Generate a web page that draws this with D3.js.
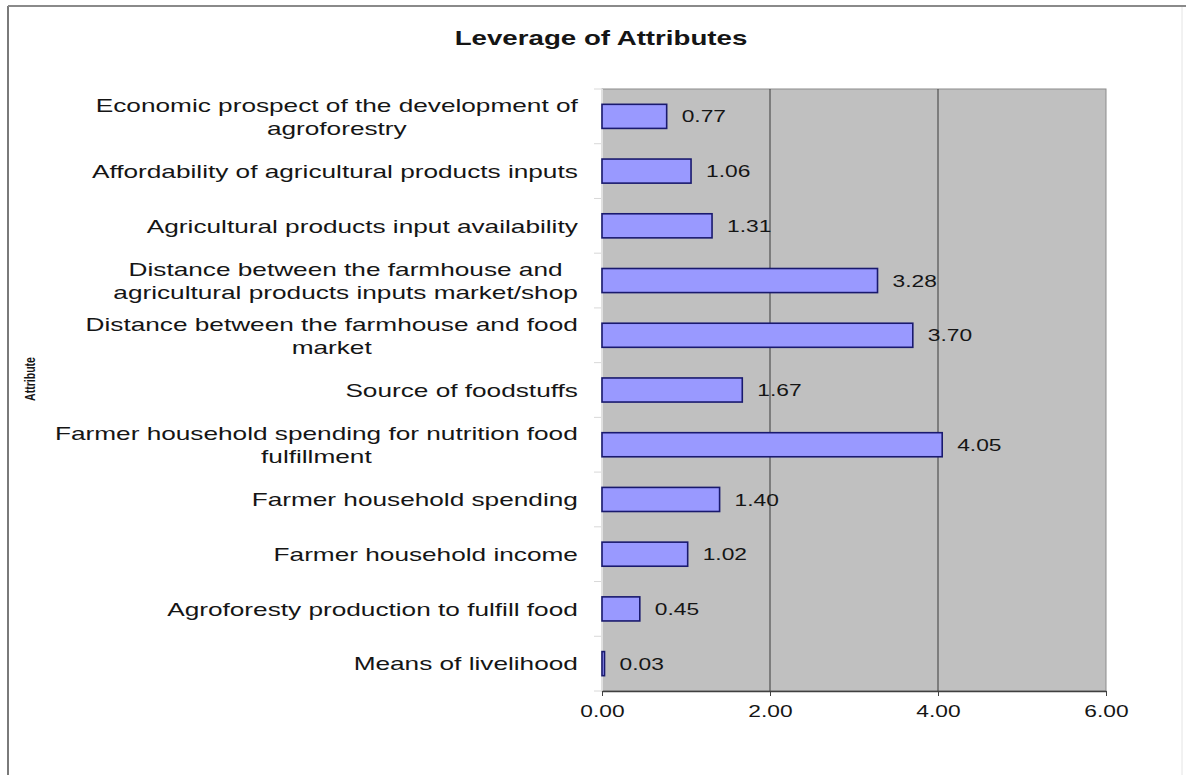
<!DOCTYPE html>
<html>
<head>
<meta charset="utf-8">
<script src="https://cdn.jsdelivr.net/npm/d3@7"></script>
<style>
  html, body { margin: 0; padding: 0; background: #fff; }
  svg { display: block; }
  text { font-family: Arial, "Liberation Sans", sans-serif; fill: #151515; }
</style>
</head>
<body>
<svg id="chart" width="1186" height="775"></svg>
<script>
// Attribute names (top to bottom); "\n" marks a line break in the label
const categories = [
  "Economic prospect of the development of\nagroforestry",
  "Affordability of agricultural products inputs",
  "Agricultural products input availability",
  "Distance between the farmhouse and\nagricultural products inputs market/shop",
  "Distance between the farmhouse and food\nmarket",
  "Source of foodstuffs",
  "Farmer household spending for nutrition food\nfulfillment",
  "Farmer household spending",
  "Farmer household income",
  "Agroforesty production to fulfill food",
  "Means of livelihood"
];
// Leverage value per attribute
const values = [0.77, 1.06, 1.31, 3.28, 3.70, 1.67, 4.05, 1.40, 1.02, 0.45, 0.03];
// Value axis ticks
const xTicks = [0, 2, 4, 6];
const chartTitle = "Leverage of Attributes";
const yTitle = "Attribute";

const svg = d3.select("#chart");
const plot = { left: 602, right: 1106, top: 89, bottom: 691 };
const SX = 1.38;   // horizontal stretch of the category labels
const SXV = 1.34;  // horizontal stretch of the numeric labels

// Outer frame
svg.append("line").attr("x1", 8).attr("x2", 8).attr("y1", 6).attr("y2", 775)
  .attr("stroke", "#7a7a7a").attr("stroke-width", 2);
svg.append("line").attr("x1", 8).attr("x2", 1186).attr("y1", 6).attr("y2", 6)
  .attr("stroke", "#8a8a8a").attr("stroke-width", 2);
svg.append("line").attr("x1", 1182).attr("x2", 1182).attr("y1", 7).attr("y2", 775)
  .attr("stroke", "#e4e4e4").attr("stroke-width", 1);

const x = d3.scaleLinear().domain([0, 6]).range([plot.left, plot.right]);
const y = d3.scaleBand().domain(d3.range(categories.length))
  .range([plot.top, plot.bottom]).paddingInner(0.56).paddingOuter(0.28);

// Plot background
svg.append("rect")
  .attr("x", plot.left).attr("y", plot.top)
  .attr("width", plot.right - plot.left).attr("height", plot.bottom - plot.top)
  .attr("fill", "#c0c0c0").attr("stroke", "#8c8c8c").attr("stroke-width", 1);

// Vertical gridlines
svg.append("g").selectAll("line")
  .data(xTicks.filter(t => t > 0 && t < 6))
  .join("line")
  .attr("x1", d => x(d)).attr("x2", d => x(d))
  .attr("y1", plot.top).attr("y2", plot.bottom)
  .attr("stroke", "#3a3a3a").attr("stroke-width", 1);

// Category separators on the left edge
const step = y.step();
svg.append("g").selectAll("line")
  .data(d3.range(categories.length + 1))
  .join("line")
  .attr("x1", plot.left - 8).attr("x2", plot.left)
  .attr("y1", i => plot.top + i * step).attr("y2", i => plot.top + i * step)
  .attr("stroke", "#d8d8d8").attr("stroke-width", 1);
svg.append("line").attr("x1", plot.left).attr("x2", plot.left)
  .attr("y1", plot.top).attr("y2", plot.bottom)
  .attr("stroke", "#e0e0e0").attr("stroke-width", 2);

// Bars
svg.append("g").selectAll("rect")
  .data(values)
  .join("rect")
  .attr("x", x(0))
  .attr("y", (d, i) => y(i))
  .attr("width", d => x(d) - x(0))
  .attr("height", y.bandwidth())
  .attr("fill", "#9999ff")
  .attr("stroke", "#1a1a6e").attr("stroke-width", 1.6);

// Value labels
svg.append("g").selectAll("text")
  .data(values)
  .join("text")
  .attr("transform", (d, i) => `translate(${x(d) + 15},${y(i) + y.bandwidth() / 2}) scale(${SXV},1)`)
  .attr("dy", "0.36em")
  .attr("font-size", 17)
  .text(d => d.toFixed(2));

// Bottom axis
const xAxis = d3.axisBottom(x).tickValues(xTicks).tickFormat(d3.format(".2f")).tickSize(5).tickSizeOuter(0);
const gx = svg.append("g").attr("transform", `translate(0,${plot.bottom})`).call(xAxis);
gx.select(".domain").attr("stroke", "#404040").attr("stroke-width", 1.5);
gx.selectAll(".tick line").attr("stroke", "#404040");
gx.selectAll(".tick text")
  .attr("font-size", 17)
  .attr("font-family", "Arial, 'Liberation Sans', sans-serif")
  .attr("fill", "#151515")
  .attr("y", 0).attr("dy", 0)
  .attr("transform", `translate(0,26) scale(${SXV},1)`);

// Category labels: multi-line blocks centred on themselves, right-aligned to the axis
const labelRight = 578;
const lineGap = 23;
categories.forEach((name, i) => {
  const lines = name.split("\n");
  const cy = y(i) + y.bandwidth() / 2;
  const g = svg.append("g");
  const texts = lines.map(ln => g.append("text")
    .attr("font-size", 19)
    .attr("dy", "0.36em")
    .text(ln));
  const widths = texts.map(t => t.node().getComputedTextLength() * SX);
  const maxW = d3.max(widths);
  const cx = labelRight - maxW / 2;
  texts.forEach((t, k) => {
    const ly = cy + (k - (lines.length - 1) / 2) * lineGap;
    t.attr("text-anchor", "middle")
      .attr("transform", `translate(${cx},${ly}) scale(${SX},1)`);
  });
});

// Chart title
svg.append("text")
  .attr("transform", "translate(601,38) scale(1.385,1)")
  .attr("text-anchor", "middle").attr("dy", "0.36em")
  .attr("font-size", 20).attr("font-weight", "bold")
  .text(chartTitle);

// Axis title
svg.append("text")
  .attr("transform", "translate(30,379) rotate(-90)")
  .attr("text-anchor", "middle").attr("dy", "0.36em")
  .attr("font-size", 15).attr("font-weight", "bold")
  .attr("textLength", 44).attr("lengthAdjust", "spacingAndGlyphs")
  .text(yTitle);
</script>
</body>
</html>
